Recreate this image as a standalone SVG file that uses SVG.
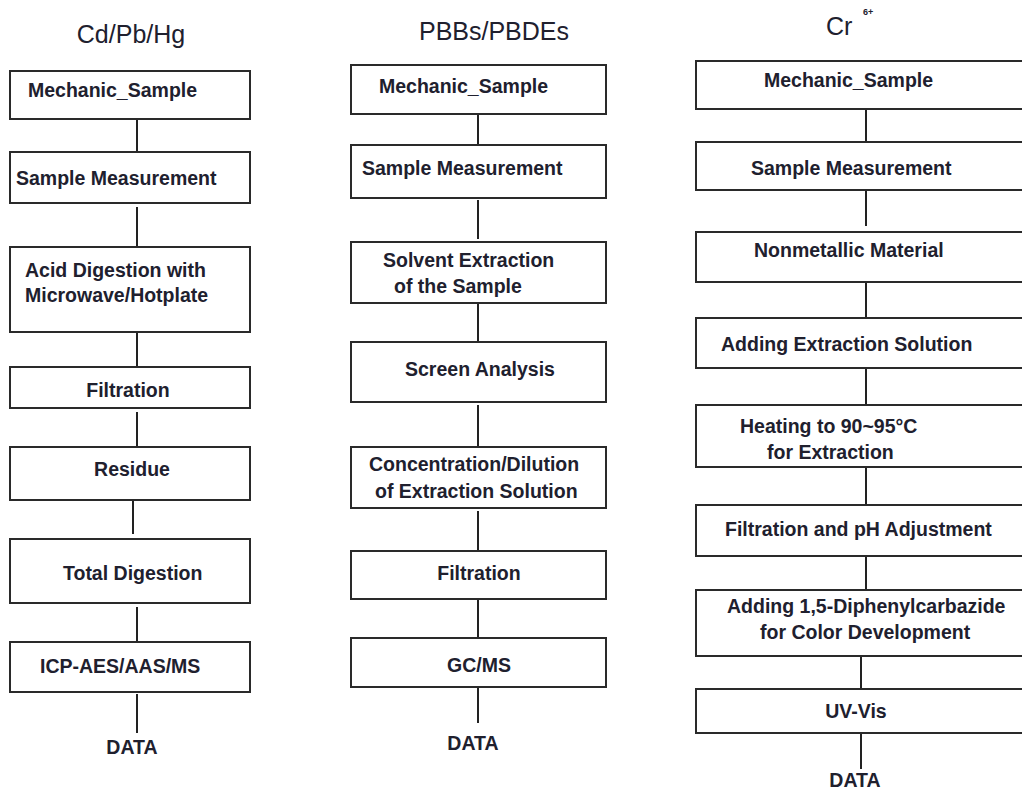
<svg xmlns="http://www.w3.org/2000/svg" width="1022" height="791" viewBox="0 0 1022 791">
<style>
.bg{fill:#ffffff}
.box{fill:#ffffff;stroke:#2a2a2a;stroke-width:2}
.lbl{font-family:"Liberation Sans",Arial,sans-serif;font-weight:bold;font-size:19.5px;fill:#20202e}
.ttl{font-family:"Liberation Sans",Arial,sans-serif;font-size:25px;fill:#20202e}
.sup{font-family:"Liberation Sans",Arial,sans-serif;font-size:9px;font-weight:bold;fill:#20202e}
.ln{stroke:#222222;stroke-width:2;fill:none}
</style>
<rect class="bg" x="0" y="0" width="1022" height="791"/>
<g id="titles">
<text class="ttl" x="131" y="43" text-anchor="middle">Cd/Pb/Hg</text>
<text class="ttl" x="494" y="40" text-anchor="middle">PBBs/PBDEs</text>
<text class="ttl" x="826" y="35">Cr</text>
<text class="sup" x="863" y="15">6+</text>
</g>
<g id="connectors">
<line class="ln" x1="137" y1="119" x2="137" y2="152"/>
<line class="ln" x1="137" y1="207" x2="137" y2="247"/>
<line class="ln" x1="137" y1="328" x2="137" y2="367"/>
<line class="ln" x1="137" y1="412" x2="137" y2="449"/>
<line class="ln" x1="133" y1="500" x2="133" y2="534"/>
<line class="ln" x1="137" y1="607" x2="137" y2="645"/>
<line class="ln" x1="137" y1="694" x2="137" y2="733"/>
<line class="ln" x1="478" y1="114" x2="478" y2="145"/>
<line class="ln" x1="478" y1="200" x2="478" y2="239"/>
<line class="ln" x1="478" y1="303" x2="478" y2="342"/>
<line class="ln" x1="478" y1="405" x2="478" y2="447"/>
<line class="ln" x1="478" y1="511" x2="478" y2="551"/>
<line class="ln" x1="478" y1="599" x2="478" y2="638"/>
<line class="ln" x1="478" y1="684" x2="478" y2="723"/>
<line class="ln" x1="866" y1="109" x2="866" y2="142"/>
<line class="ln" x1="866" y1="188" x2="866" y2="226"/>
<line class="ln" x1="866" y1="280" x2="866" y2="318"/>
<line class="ln" x1="866" y1="368" x2="866" y2="405"/>
<line class="ln" x1="866" y1="467" x2="866" y2="505"/>
<line class="ln" x1="866" y1="556" x2="866" y2="593"/>
<line class="ln" x1="861" y1="650" x2="861" y2="689"/>
<line class="ln" x1="861" y1="733" x2="861" y2="769"/>
</g>
<g id="col1">
<g id="c1n1"><rect class="box" x="10" y="71" width="240" height="48"/><text class="lbl" x="28" y="97">Mechanic_Sample</text></g>
<g id="c1n2"><rect class="box" x="10" y="152" width="240" height="51"/><text class="lbl" x="16" y="185">Sample Measurement</text></g>
<g id="c1n3"><rect class="box" x="10" y="247" width="240" height="85"/><text class="lbl" x="25" y="277">Acid Digestion with</text><text class="lbl" x="25" y="302">Microwave/Hotplate</text></g>
<g id="c1n4"><rect class="box" x="10" y="367" width="240" height="41"/><text class="lbl" x="128" y="397" text-anchor="middle">Filtration</text></g>
<g id="c1n5"><rect class="box" x="10" y="447" width="240" height="53"/><text class="lbl" x="132" y="476" text-anchor="middle">Residue</text></g>
<g id="c1n6"><rect class="box" x="10" y="539" width="240" height="64"/><text class="lbl" x="63" y="580">Total Digestion</text></g>
<g id="c1n7"><rect class="box" x="10" y="642" width="240" height="50"/><text class="lbl" x="40" y="673">ICP-AES/AAS/MS</text></g>
<g id="c1n8"><text class="lbl" x="132" y="754" text-anchor="middle">DATA</text></g>
</g>
<g id="col2">
<g id="c2n1"><rect class="box" x="351" y="65" width="255" height="49"/><text class="lbl" x="379" y="93">Mechanic_Sample</text></g>
<g id="c2n2"><rect class="box" x="351" y="145" width="255" height="53"/><text class="lbl" x="362" y="175">Sample Measurement</text></g>
<g id="c2n3"><rect class="box" x="351" y="242" width="255" height="61"/><text class="lbl" x="383" y="267">Solvent Extraction</text><text class="lbl" x="394" y="293">of the Sample</text></g>
<g id="c2n4"><rect class="box" x="351" y="342" width="255" height="60"/><text class="lbl" x="405" y="376">Screen Analysis</text></g>
<g id="c2n5"><rect class="box" x="351" y="447" width="255" height="61"/><text class="lbl" x="369" y="471">Concentration/Dilution</text><text class="lbl" x="375" y="498">of Extraction Solution</text></g>
<g id="c2n6"><rect class="box" x="351" y="551" width="255" height="48"/><text class="lbl" x="479" y="580" text-anchor="middle">Filtration</text></g>
<g id="c2n7"><rect class="box" x="351" y="638" width="255" height="49"/><text class="lbl" x="479" y="672" text-anchor="middle">GC/MS</text></g>
<g id="c2n8"><text class="lbl" x="473" y="750" text-anchor="middle">DATA</text></g>
</g>
<g id="col3">
<g id="c3n1"><rect class="box" x="696" y="61" width="340" height="48"/><text class="lbl" x="764" y="87">Mechanic_Sample</text></g>
<g id="c3n2"><rect class="box" x="696" y="142" width="340" height="48"/><text class="lbl" x="751" y="175">Sample Measurement</text></g>
<g id="c3n3"><rect class="box" x="696" y="232" width="340" height="50"/><text class="lbl" x="754" y="257">Nonmetallic Material</text></g>
<g id="c3n4"><rect class="box" x="696" y="318" width="340" height="50"/><text class="lbl" x="721" y="351">Adding Extraction Solution</text></g>
<g id="c3n5"><rect class="box" x="696" y="405" width="340" height="62"/><text class="lbl" x="740" y="433">Heating to 90~95°C</text><text class="lbl" x="767" y="459">for Extraction</text></g>
<g id="c3n6"><rect class="box" x="696" y="505" width="340" height="51"/><text class="lbl" x="725" y="536">Filtration and pH Adjustment</text></g>
<g id="c3n7"><rect class="box" x="696" y="590" width="340" height="66"/><text class="lbl" x="727" y="613">Adding 1,5-Diphenylcarbazide</text><text class="lbl" x="760" y="639">for Color Development</text></g>
<g id="c3n8"><rect class="box" x="696" y="689" width="340" height="44"/><text class="lbl" x="856" y="718" text-anchor="middle">UV-Vis</text></g>
<g id="c3n9"><text class="lbl" x="855" y="787" text-anchor="middle">DATA</text></g>
</g>
</svg>
